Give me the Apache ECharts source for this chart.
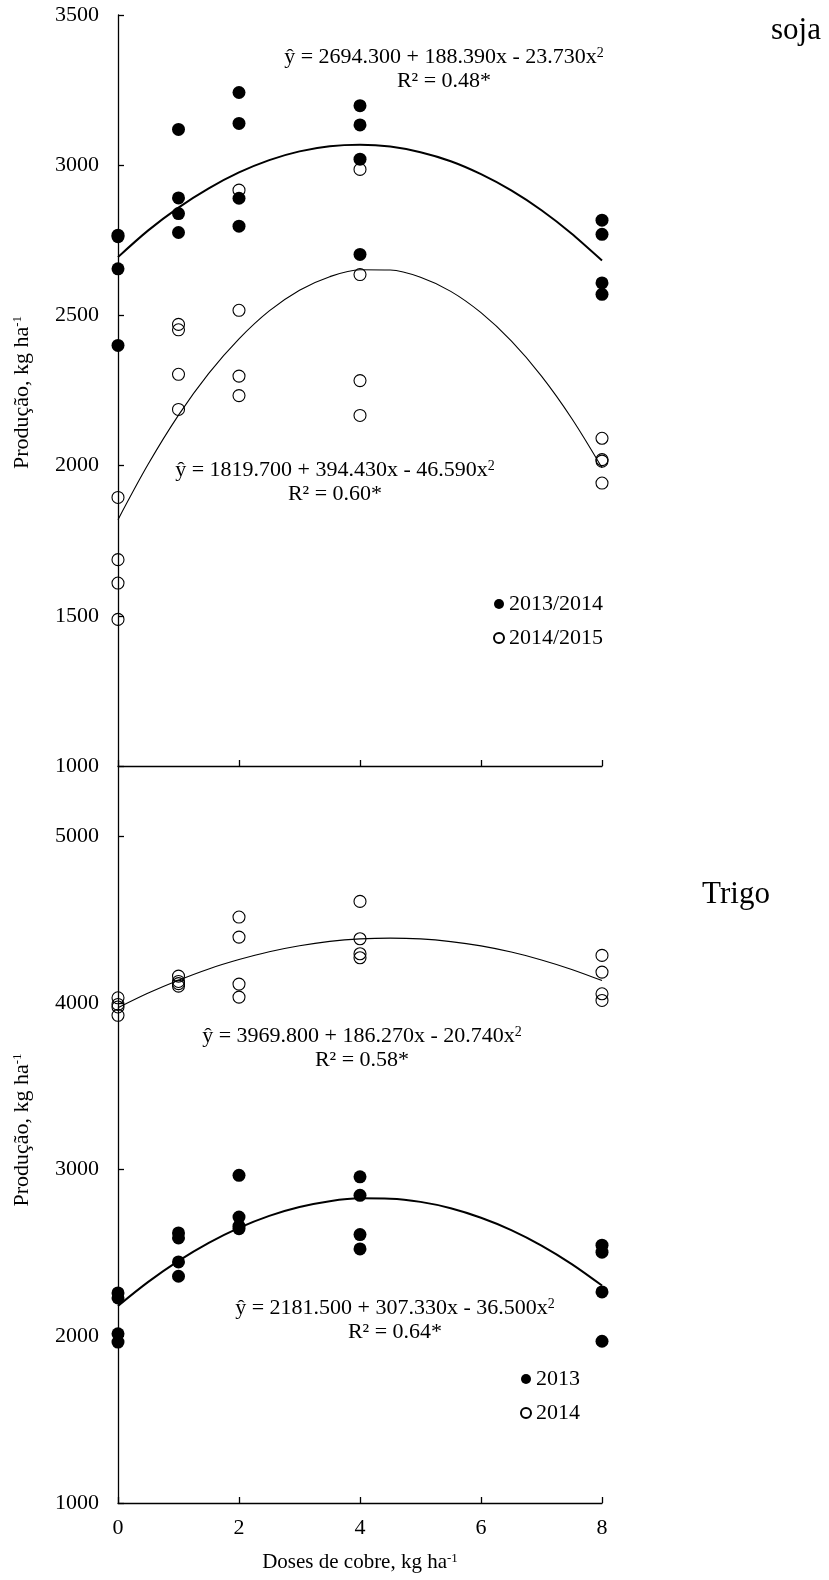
<!DOCTYPE html>
<html>
<head>
<meta charset="utf-8">
<script src="https://cdn.jsdelivr.net/npm/echarts@6/dist/echarts.min.js"></script>
<style>
html,body{margin:0;padding:0;background:#fff;}
#chart{width:829px;height:1580px;}
</style>
</head>
<body>
<div id="chart"></div>
<script>
// ---------- data ----------
const doses = [0, 1, 2, 4, 8];
const xTicks = [0, 2, 4, 6, 8];

// soja (top panel): 4 replicates per dose
const soja1314 = [[2767, 2762, 2655, 2400], [3119, 2891, 2839, 2776], [3242, 3139, 2890, 2797], [3198, 3134, 3020, 2703], [2817, 2770, 2608, 2570]];
const soja1415 = [[1894, 1687, 1609, 1488], [2470, 2452, 2304, 2187], [2917, 2517, 2298, 2233], [2986, 2636, 2283, 2167], [2091, 2020, 2015, 1942]];

// trigo (bottom panel)
const trigo2013 = [[2260, 2230, 2015, 1965], [2620, 2590, 2446, 2360], [2965, 2715, 2660, 2645], [2956, 2845, 2610, 2524], [2546, 2504, 2266, 1970]];
const trigo2014 = [[4030, 3990, 3975, 3925], [4160, 4128, 4115, 4100], [4514, 4394, 4112, 4034], [4608, 4384, 4294, 4270], [4284, 4184, 4054, 4014]];

// fitted curves (every 0.5 kg/ha)
const fitX = [0, 0.5, 1, 1.5, 2, 2.5, 3, 3.5, 4, 4.5, 5, 5.5, 6, 6.5, 7, 7.5, 8];
const soja1314Fit = [2694, 2783, 2859, 2923, 2976, 3017, 3046, 3063, 3068, 3062, 3043, 3013, 2970, 2916, 2850, 2772, 2683];
const soja1415Fit = [1820, 2005, 2168, 2307, 2422, 2515, 2584, 2629, 2652, 2651, 2627, 2580, 2509, 2415, 2298, 2157, 1993];
const trigo2013Fit = [2182, 2326, 2452, 2560, 2650, 2722, 2775, 2810, 2827, 2825, 2806, 2768, 2711, 2637, 2544, 2433, 2304];
const trigo2014Fit = [3970, 4058, 4135, 4203, 4259, 4306, 4342, 4368, 4383, 4388, 4383, 4367, 4341, 4304, 4257, 4200, 4133];

const sojaNames = ['2013/2014', '2014/2015'];
const trigoNames = ['2013', '2014'];
const panelTitles = ['soja', 'Trigo'];
const equations = [
  ['ŷ = 2694.300 + 188.390x - 23.730x{s|2}', 'R² = 0.48*'],
  ['ŷ = 1819.700 + 394.430x - 46.590x{s|2}', 'R² = 0.60*'],
  ['ŷ = 3969.800 + 186.270x - 20.740x{s|2}', 'R² = 0.58*'],
  ['ŷ = 2181.500 + 307.330x - 36.500x{s|2}', 'R² = 0.64*']
];
const yTitle = 'Produção, kg ha{sup|-1}';
const xTitle = 'Doses de cobre, kg ha{sup|-1}';

// ---------- helpers ----------
const FONT = '"Liberation Serif", "Times New Roman", serif';
function pts(groups) {
  const out = [];
  groups.forEach((g, i) => g.forEach(v => out.push([doses[i], v])));
  return out;
}
function curve(vals) { return fitX.map((x, i) => [x, vals[i]]); }

const chart = echarts.init(document.getElementById('chart'), null, {renderer: 'canvas'});

const axisLine = {lineStyle: {color: '#000', width: 1.3}};
const axisTick = {inside: true, length: 6, lineStyle: {color: '#000', width: 1.3}};
const labelStyle = {color: '#000', fontSize: 22, fontFamily: FONT};
const nameStyleY = {
  color: '#000', fontSize: 22, fontFamily: FONT,
  rich: {sup: {fontSize: 13, fontFamily: FONT, color: '#000', verticalAlign: 'top'}}
};

function eqText(x, y, lines) {
  return [
    {type: 'text', x: x, y: y, z: 50, style: {
      text: lines[0], fill: '#000', fontSize: 22, fontFamily: FONT, align: 'center', verticalAlign: 'middle',
      rich: {s: {fontSize: 14, fontFamily: FONT, fill: '#000', verticalAlign: 'top'}}
    }},
    {type: 'text', x: x, y: y + 24, z: 50, style: {
      text: lines[1], fill: '#000', fontSize: 22, fontFamily: FONT, align: 'center', verticalAlign: 'middle'
    }}
  ];
}

const openStyle = {color: 'rgba(255,255,255,0)', borderColor: '#000', borderWidth: 1.1, opacity: 1};
const fillStyle = {color: '#000', opacity: 1};

const option = {
  animation: false,
  backgroundColor: '#fff',
  grid: [
    {left: 118, top: 15, width: 484, height: 751},
    {left: 118, top: 766, width: 484, height: 737}
  ],
  xAxis: [
    {gridIndex: 0, type: 'value', min: 0, max: 8, interval: 2,
     axisLine: axisLine, axisTick: axisTick, axisLabel: {show: false}, splitLine: {show: false}},
    {gridIndex: 1, type: 'value', min: 0, max: 8, interval: 2,
     axisLine: axisLine, axisTick: axisTick,
     axisLabel: Object.assign({margin: 14, formatter: v => xTicks.indexOf(v) >= 0 ? String(v) : ''}, labelStyle),
     splitLine: {show: false},
     name: xTitle, nameLocation: 'middle', nameGap: 49,
     nameTextStyle: {color: '#000', fontSize: 21, fontFamily: FONT,
       rich: {sup: {fontSize: 13, fontFamily: FONT, color: '#000', verticalAlign: 'top'}}}}
  ],
  yAxis: [
    {gridIndex: 0, type: 'value', min: 1000, max: 3500, interval: 500,
     axisLine: axisLine, axisTick: axisTick,
     axisLabel: Object.assign({margin: 19, formatter: v => String(v)}, labelStyle),
     splitLine: {show: false},
     name: yTitle, nameLocation: 'middle', nameRotate: 90, nameGap: 85,
     nameTextStyle: Object.assign({}, nameStyleY, {padding: [0, 4, 0, 0]})},
    {gridIndex: 1, type: 'value', min: 1000, max: 5420, interval: 1000,
     axisLine: axisLine, axisTick: axisTick,
     axisLabel: Object.assign({margin: 19, showMaxLabel: false, formatter: v => (v % 1000 === 0 ? String(v) : '')}, labelStyle),
     splitLine: {show: false},
     name: yTitle, nameLocation: 'middle', nameRotate: 90, nameGap: 85,
     nameTextStyle: Object.assign({}, nameStyleY, {padding: [0, 0, 0, 9]})}
  ],
  legend: [
    {data: sojaNames, orient: 'vertical', left: 488, top: 588, itemWidth: 10, itemHeight: 10, itemGap: 12,
     icon: 'circle', textStyle: {color: '#000', fontSize: 22, fontFamily: FONT}, selectedMode: false},
    {data: trigoNames, orient: 'vertical', left: 515, top: 1363, itemWidth: 10, itemHeight: 10, itemGap: 12,
     icon: 'circle', textStyle: {color: '#000', fontSize: 22, fontFamily: FONT}, selectedMode: false}
  ],
  series: [
    {name: sojaNames[1], type: 'scatter', xAxisIndex: 0, yAxisIndex: 0, data: pts(soja1415),
     symbol: 'circle', symbolSize: 12, itemStyle: openStyle, clip: false, z: 2},
    {name: sojaNames[0], type: 'scatter', xAxisIndex: 0, yAxisIndex: 0, data: pts(soja1314),
     symbol: 'circle', symbolSize: 13, itemStyle: fillStyle, clip: false, z: 3},
    {name: 'fit soja 2013/2014', type: 'line', xAxisIndex: 0, yAxisIndex: 0, data: curve(soja1314Fit),
     smooth: 0.33, showSymbol: false, lineStyle: {color: '#000', width: 2}, clip: false, z: 4},
    {name: 'fit soja 2014/2015', type: 'line', xAxisIndex: 0, yAxisIndex: 0, data: curve(soja1415Fit),
     smooth: 0.33, showSymbol: false, lineStyle: {color: '#000', width: 1.1}, clip: false, z: 4},

    {name: trigoNames[1], type: 'scatter', xAxisIndex: 1, yAxisIndex: 1, data: pts(trigo2014),
     symbol: 'circle', symbolSize: 12, itemStyle: openStyle, clip: false, z: 2},
    {name: trigoNames[0], type: 'scatter', xAxisIndex: 1, yAxisIndex: 1, data: pts(trigo2013),
     symbol: 'circle', symbolSize: 13, itemStyle: fillStyle, clip: false, z: 3},
    {name: 'fit trigo 2013', type: 'line', xAxisIndex: 1, yAxisIndex: 1, data: curve(trigo2013Fit),
     smooth: 0.33, showSymbol: false, lineStyle: {color: '#000', width: 2}, clip: false, z: 4},
    {name: 'fit trigo 2014', type: 'line', xAxisIndex: 1, yAxisIndex: 1, data: curve(trigo2014Fit),
     smooth: 0.33, showSymbol: false, lineStyle: {color: '#000', width: 1.1}, clip: false, z: 4}
  ],
  graphic: [].concat(
    [{type: 'text', x: 796, y: 31, style: {text: panelTitles[0], fill: '#000', fontSize: 31, fontFamily: FONT, align: 'center', verticalAlign: 'middle'}},
     {type: 'text', x: 736, y: 895, style: {text: panelTitles[1], fill: '#000', fontSize: 31, fontFamily: FONT, align: 'center', verticalAlign: 'middle'}}],
    eqText(444, 57, equations[0]),
    eqText(335, 470, equations[1]),
    eqText(362, 1036, equations[2]),
    eqText(395, 1308, equations[3])
  )
};
chart.setOption(option);
</script>
</body>
</html>
